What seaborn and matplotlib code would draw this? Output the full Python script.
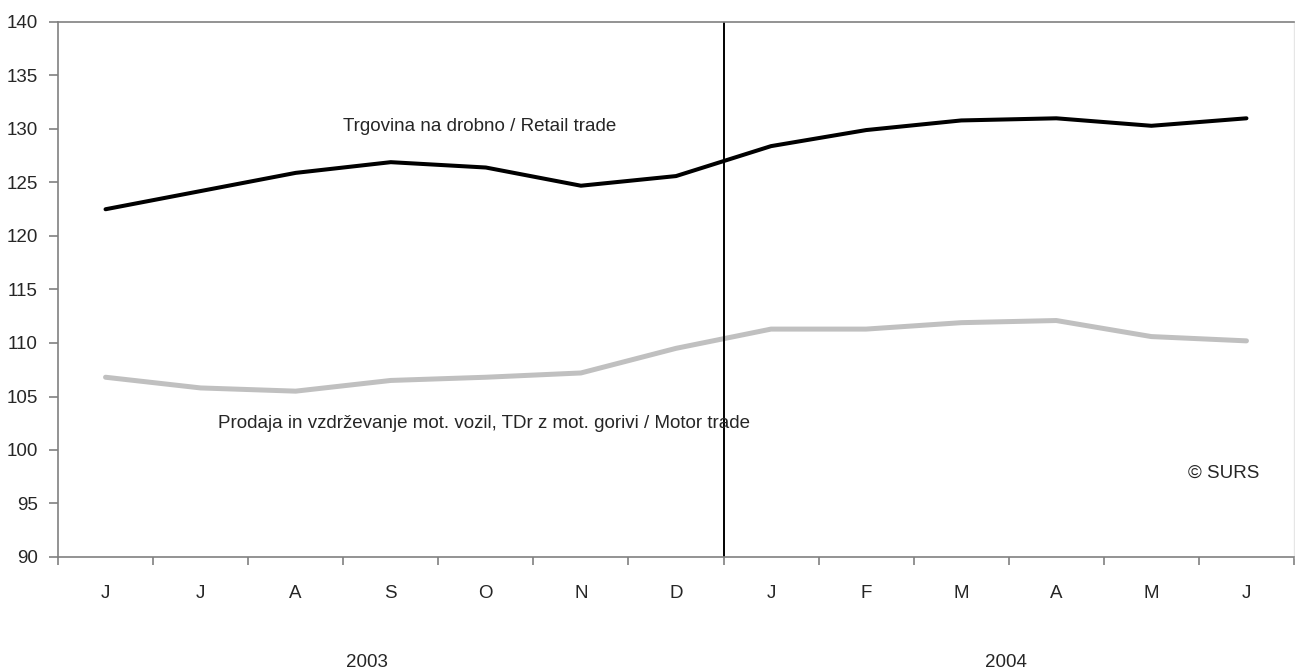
import matplotlib
matplotlib.use("Agg")
import matplotlib.pyplot as plt
import seaborn as sns
import pandas as pd
import numpy as np

# mesecne vrednosti, jun 2003 - jun 2004
meseci = ['J', 'J', 'A', 'S', 'O', 'N', 'D', 'J', 'F', 'M', 'A', 'M', 'J']
trgovina_drobno = [122.5, 124.2, 125.9, 126.9, 126.4, 124.7, 125.6, 128.4, 129.9, 130.8, 131.0, 130.3, 131.0]
motorna_vozila = [106.8, 105.8, 105.5, 106.5, 106.8, 107.2, 109.5, 111.3, 111.3, 111.9, 112.1, 110.6, 110.2]
leta = ['2003', '2004']

sns.set_style("white")
plt.rcParams['font.family'] = ['Liberation Sans', 'DejaVu Sans']

df = pd.DataFrame({
    'poz': np.arange(len(meseci)),
    'retail': trgovina_drobno,
    'motor': motorna_vozila,
})

fig = plt.figure(figsize=(12.95, 6.71), dpi=100)
ax = fig.add_axes([58 / 1295, 1 - 557 / 671, 1236 / 1295, 535 / 671])

sns.lineplot(data=df, x='poz', y='motor', ax=ax, color='#c0c0c0', linewidth=3.6,
             solid_capstyle='round', solid_joinstyle='round')
sns.lineplot(data=df, x='poz', y='retail', ax=ax, color='black', linewidth=2.9,
             solid_capstyle='round', solid_joinstyle='round')

# meja med letoma
ax.axvline(6.5, color='black', linewidth=1.4)

fs = 13.5
ax.set_xlim(-0.5, len(meseci) - 0.5)
ax.set_ylim(90, 140)
ax.set_yticks(range(90, 141, 5))
ax.set_xticks(df['poz'])
ax.set_xticklabels(meseci)
ax.set_xticks(np.arange(-0.5, len(meseci)), minor=True)
ax.tick_params(axis='x', which='major', length=0, pad=20, labelsize=fs)
ax.tick_params(axis='x', which='minor', length=6, width=1.2, color='#808080', bottom=True)
ax.tick_params(axis='y', length=6.5, width=1.2, color='#808080', pad=8, labelsize=fs, left=True)
ax.set_xlabel('')
ax.set_ylabel('')

for s in ['left', 'bottom', 'top']:
    ax.spines[s].set_color('#808080')
    ax.spines[s].set_linewidth(1.2)
ax.spines['right'].set_color('#e6e6e6')
ax.spines['right'].set_linewidth(1.0)

ax.text(2.5, 130.2, 'Trgovina na drobno / Retail trade', fontsize=fs, va='center', ha='left')
ax.text(1.18, 102.5, 'Prodaja in vzdrževanje mot. vozil, TDr z mot. gorivi / Motor trade',
        fontsize=fs, va='center', ha='left')
ax.text(11.76, 97.85, '© SURS', fontsize=fs, va='center', ha='center')

for x, leto in zip([2.75, 9.47], leta):
    ax.text(x, 80.1, leto, fontsize=fs, va='center', ha='center', clip_on=False)

fig.savefig('out.png', dpi=100)
